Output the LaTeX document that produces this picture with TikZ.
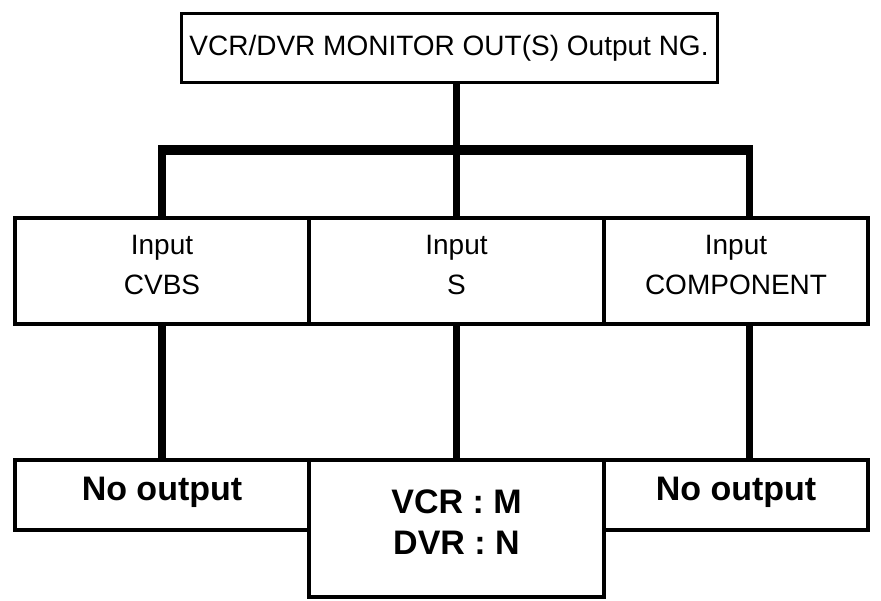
\documentclass[tikz,border=0pt]{standalone}
\usepackage{fontspec}
\setmainfont{Liberation Sans}
\begin{document}
\begin{tikzpicture}[x=1pt, y=-1pt,
    box/.style={draw, line width=3.5pt, rectangle, inner sep=0pt, align=center},
    link/.style={line width=7.5pt},
    bus/.style={line width=9.5pt, shorten <=-3.75pt, shorten >=-3.75pt},
    plain/.style={font=\fontsize{28}{40}\selectfont},
    heavy/.style={font=\fontsize{34}{41}\selectfont\bfseries}]
    \useasboundingbox (0,0) rectangle (881,601);
    % top box
    \node[box, line width=3pt, plain, minimum width=536pt, minimum height=69pt] (top) at (449,48.5) {VCR/DVR MONITOR OUT(S) Output NG.};
    % input row
    \node[box, plain, text depth=12pt, minimum width=294pt, minimum height=106pt] (incvbs) at (162,271) {Input\\CVBS};
    \node[box, plain, text depth=12pt, minimum width=295pt, minimum height=106pt] (ins) at (456.5,271) {Input\\S};
    \node[box, plain, text depth=12pt, minimum width=264pt, minimum height=106pt] (incomp) at (736,271) {Input\\COMPONENT};
    % output row
    \node[box, heavy, text depth=12pt, minimum width=294pt, minimum height=70pt] (outcvbs) at (162,495) {No output};
    \node[box, heavy, text depth=12pt, minimum width=295pt, minimum height=137pt] (outs) at (456.5,528.5) {VCR : M\\DVR : N};
    \node[box, heavy, text depth=12pt, minimum width=264pt, minimum height=70pt] (outcomp) at (736,495) {No output};
    % bus
    \coordinate (busL) at (162,150);
    \coordinate (busM) at (456.5,150);
    \coordinate (busR) at (749.5,150);
    \draw[link] (top.south -| busM) -- (busM);
    \draw[bus] (busL) -- (busR);
    \foreach \c in {busL, busM, busR}
        \draw[link] (\c) -- (\c |- ins.north);
    % down to outputs
    \draw[link] (incvbs.south -| busL) -- (outcvbs.north -| busL);
    \draw[link] (ins.south -| busM) -- (outs.north -| busM);
    \draw[link] (incomp.south -| busR) -- (outcomp.north -| busR);
\end{tikzpicture}
\end{document}
